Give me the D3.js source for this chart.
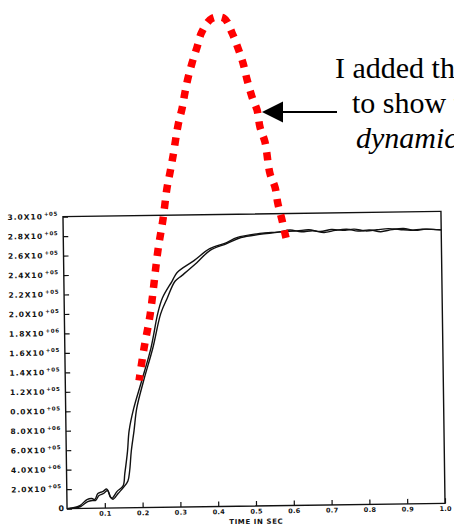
<!DOCTYPE html>
<html>
<head>
<meta charset="utf-8">
<script src="https://cdn.jsdelivr.net/npm/d3@7"></script>
<style>
body { margin: 0; background: #fff; }
svg { display: block; }
</style>
</head>
<body>
<div class="container"></div>
<script>
var width = 454, height = 524;
var plot = {left: 65, right: 443, top: 214, bottom: 506};

// y axis ticks, text as printed on the scan
var yTickValues = [0, 20000, 40000, 60000, 80000, 100000, 120000, 140000, 160000,
                   180000, 200000, 220000, 240000, 260000, 280000, 300000];
var yTickLabels = ["0", "2.0X10", "4.0X10", "6.0X10", "8.0X10", "0.0X10", "1.2X10", "1.4X10",
                   "1.6X10", "1.8X10", "2.0X10", "2.2X10", "2.4X10", "2.6X10", "2.8X10", "3.0X10"];
var yTickExps = ["", "+05", "+06", "+05", "+06", "+05", "+05", "+05",
                 "+05", "+06", "+05", "+05", "+05", "+05", "+05", "+05"];

// x axis ticks
var xTickValues = [0.1, 0.2, 0.3, 0.4, 0.5, 0.6, 0.7, 0.8, 0.9, 1.0];
var xTickLabels = ["0.1", "0.2", "0.3", "0.4", "0.5", "0.6", "0.7", "0.8", "0.9", "1.0"];

// run A (left branch)
var runATime  = [0, 0.01, 0.034, 0.053, 0.066, 0.074, 0.082, 0.095, 0.106, 0.114, 0.119, 0.133,
                 0.149, 0.154, 0.162, 0.167, 0.18, 0.202, 0.228, 0.247, 0.26, 0.286, 0.30, 0.345,
                 0.387, 0.432, 0.459, 0.52, 0.565, 0.618, 0.65, 0.68, 0.71, 0.74, 0.77, 0.80,
                 0.83, 0.86, 0.89, 0.92, 0.95, 1.0];
var runAForce = [0, 500, 3000, 9000, 10000, 9000, 15000, 17000, 19500, 12000, 10000, 17000,
                 22500, 35000, 58000, 79000, 102000, 130000, 164000, 199000, 215000, 232000, 241000, 253000,
                 265000, 271000, 276000, 280000, 281000, 282000, 283000, 281000, 283000, 282000, 283000, 281000,
                 282000, 283000, 282000, 281000, 282000, 281000];

// run B (right branch)
var runBTime  = [0, 0.012, 0.036, 0.055, 0.068, 0.076, 0.085, 0.097, 0.108, 0.116, 0.122, 0.136,
                 0.150, 0.162, 0.167, 0.172, 0.180, 0.188, 0.207, 0.233, 0.255, 0.273, 0.294, 0.313,
                 0.353, 0.387, 0.432, 0.47, 0.52, 0.57, 0.60, 0.63, 0.66, 0.69, 0.72, 0.75,
                 0.78, 0.81, 0.84, 0.87, 0.90, 0.93, 0.96, 1.0];
var runBForce = [0, 300, 2000, 7000, 8000, 8000, 13000, 15000, 18000, 11000, 9000, 15000,
                 21000, 27600, 38000, 58000, 79000, 102000, 130000, 164000, 199000, 215000, 232000, 238000,
                 251000, 263000, 270000, 276000, 279000, 281000, 283000, 281000, 282000, 280000, 282000, 283000,
                 281000, 282000, 280000, 282000, 283000, 281000, 282000, 281000];

// hand-drawn red overlay
var sketchTime  = [0.196, 0.209, 0.225, 0.246, 0.259, 0.270, 0.278, 0.286, 0.299, 0.310, 0.317,
                   0.325, 0.336, 0.349, 0.362, 0.389, 0.421, 0.442, 0.458, 0.471, 0.481, 0.495,
                   0.508, 0.516, 0.529, 0.542, 0.556, 0.563, 0.574, 0.582, 0.590];
var sketchForce = [129000, 162000, 196000, 263000, 294000, 327000, 343000, 360000, 391000, 409000, 424000,
                   439000, 455000, 471000, 487000, 501000, 501000, 486000, 470000, 455000, 439000, 420000,
                   407000, 389000, 374000, 342000, 327000, 311000, 294000, 280000, 267000];
var sketchPeak = 15; // index of the left point at the top of the arc

var noteLines = ["I added this line", "to show the", "dynamic load"];

var svg = d3.select("div.container").append("svg")
    .attr("width", width)
    .attr("height", height);

var x = d3.scaleLinear().domain([0, 1]).range([plot.left, plot.right]);
var y = d3.scaleLinear().domain([0, 300000]).range([plot.bottom, plot.top]);

// the scanned plot sits slightly askew
var chart = svg.append("g")
    .attr("transform", "rotate(-0.8," + (plot.left + plot.right) / 2 + "," + (plot.top + plot.bottom) / 2 + ")");

chart.append("rect")
    .attr("x", plot.left)
    .attr("y", plot.top)
    .attr("width", plot.right - plot.left)
    .attr("height", plot.bottom - plot.top)
    .attr("fill", "none")
    .attr("stroke", "#111")
    .attr("stroke-width", 1.4);

var xAxis = chart.append("g")
    .attr("transform", "translate(0," + plot.bottom + ")")
    .call(d3.axisBottom(x).tickValues(xTickValues).tickSizeInner(-5).tickSizeOuter(0)
        .tickPadding(3).tickFormat(function(d, i) { return xTickLabels[i]; }));
xAxis.select(".domain").remove();
xAxis.selectAll(".tick line").attr("stroke", "#111").attr("stroke-width", 1.2);
xAxis.selectAll(".tick text")
    .attr("fill", "#111")
    .style("font-family", "DejaVu Sans")
    .style("font-weight", "bold")
    .style("font-size", "6.5px")
    .style("letter-spacing", "0.3px");

var yAxis = chart.append("g")
    .attr("transform", "translate(" + plot.left + ",0)")
    .call(d3.axisLeft(y).tickValues(yTickValues).tickSizeInner(-5).tickSizeOuter(0).tickFormat(""));
yAxis.select(".domain").remove();
yAxis.selectAll(".tick line").attr("stroke", "#111").attr("stroke-width", 1.2);

var yLabel = chart.append("g").selectAll("text")
    .data(yTickValues)
    .enter().append("text")
    .attr("x", function(d, i) { return i === 0 ? plot.left - 2 : plot.left - 5; })
    .attr("y", function(d) { return y(d) + 2.5; })
    .attr("text-anchor", "end")
    .attr("fill", "#111")
    .style("font-family", "DejaVu Sans")
    .style("font-weight", "bold");

yLabel.append("tspan")
    .style("font-size", function(d, i) { return i === 0 ? "8px" : "7.5px"; })
    .style("letter-spacing", "1px")
    .text(function(d, i) { return yTickLabels[i]; });
yLabel.filter(function(d, i) { return yTickExps[i] !== ""; })
    .append("tspan")
    .attr("dy", -3.5)
    .attr("dx", 1)
    .style("font-size", "5.5px")
    .style("letter-spacing", "0.6px")
    .text(function(d) { return yTickExps[yTickValues.indexOf(d)]; });

chart.append("text")
    .attr("x", (plot.left + plot.right) / 2)
    .attr("y", 524)
    .attr("text-anchor", "middle")
    .attr("fill", "#111")
    .style("font-family", "DejaVu Sans")
    .style("font-weight", "bold")
    .style("font-size", "7px")
    .style("letter-spacing", "0.6px")
    .text("TIME IN SEC");

var line = d3.line()
    .x(function(d) { return x(d[0]); })
    .y(function(d) { return y(d[1]); })
    .curve(d3.curveCatmullRom.alpha(0.5));

chart.selectAll(".run")
    .data([d3.zip(runATime, runAForce), d3.zip(runBTime, runBForce)])
    .enter().append("path")
    .attr("class", "run")
    .attr("d", line)
    .attr("fill", "none")
    .attr("stroke", "#111")
    .attr("stroke-width", 1.4);

// red overlay drawn on top of the scan, not rotated
var sketch = d3.zip(sketchTime, sketchForce);
var probe = svg.append("path").attr("d", line(sketch.slice(0, sketchPeak + 1)));
var peakLen = probe.node().getTotalLength()
    + (x(sketchTime[sketchPeak + 1]) - x(sketchTime[sketchPeak])) / 2;
probe.remove();
// leave a gap right at the top of the arc, as in the drawing
var dashOffset = ((12 - peakLen) % 16 + 16) % 16;

svg.append("path")
    .attr("d", line(sketch))
    .attr("fill", "none")
    .attr("stroke", "#ff0000")
    .attr("stroke-width", 7.5)
    .attr("stroke-dasharray", "8,8")
    .attr("stroke-dashoffset", dashOffset);

// arrow pointing at the overlay
svg.append("line")
    .attr("x1", 280).attr("y1", 112)
    .attr("x2", 337).attr("y2", 112)
    .attr("stroke", "#000")
    .attr("stroke-width", 2);
svg.append("path")
    .attr("d", "M262,112L283,101.5L283,122.5Z")
    .attr("fill", "#000");

svg.append("g").selectAll("text")
    .data(noteLines)
    .enter().append("text")
    .attr("x", function(d, i) { return [335, 352, 356][i]; })
    .attr("y", function(d, i) { return 78 + i * 35; })
    .style("font-family", "Liberation Serif")
    .style("font-size", "30px")
    .style("font-style", function(d, i) { return i === 2 ? "italic" : "normal"; })
    .attr("fill", "#000")
    .text(function(d) { return d; });
</script>
</body>
</html>
